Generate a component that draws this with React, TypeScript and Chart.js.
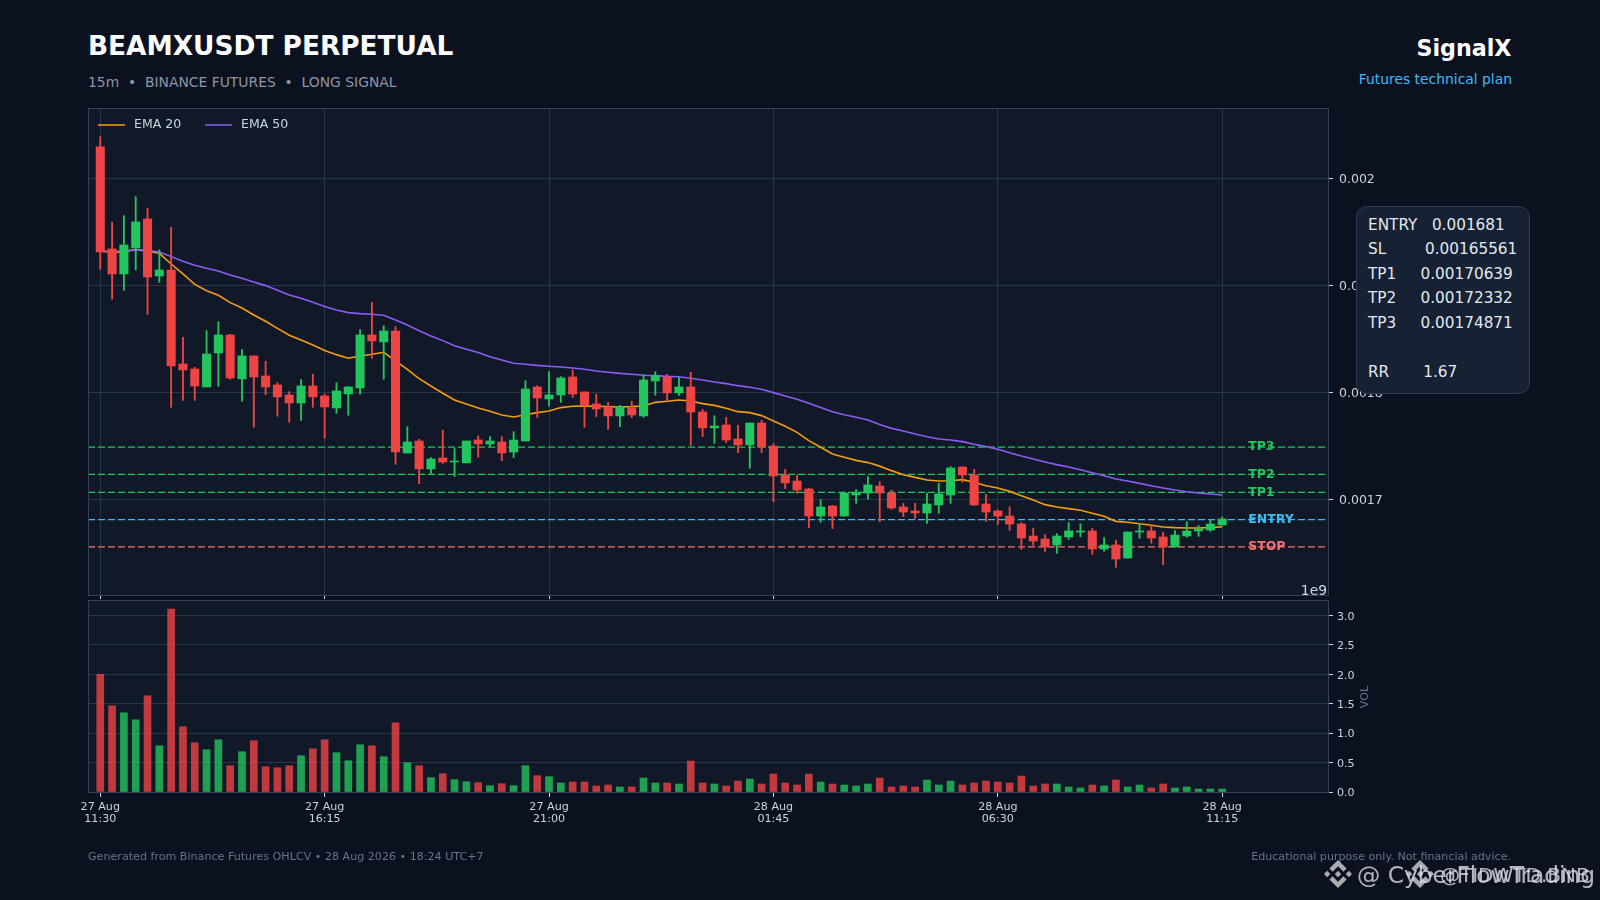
import React, { useEffect, useRef } from "react";
import { Chart, registerables } from "chart.js";

Chart.register(...registerables);

const FONT = "'DejaVu Sans', sans-serif";

const opens = [2029.3e-6,1934.0e-6,1910.6e-6,1934.9e-6,1962.0e-6,1908.7e-6,1914.3e-6,1826.5e-6,1821.8e-6,1805.0e-6,1836.8e-6,1853.6e-6,1812.5e-6,1834.0e-6,1815.3e-6,1806.9e-6,1797.5e-6,1790.0e-6,1805.9e-6,1796.6e-6,1785.4e-6,1798.5e-6,1804.1e-6,1853.6e-6,1847.1e-6,1857.3e-6,1743.3e-6,1754.5e-6,1728.4e-6,1738.6e-6,1734.9e-6,1734.0e-6,1755.5e-6,1751.7e-6,1753.6e-6,1744.2e-6,1754.5e-6,1805.0e-6,1793.8e-6,1797.5e-6,1814.3e-6,1800.3e-6,1789.1e-6,1786.3e-6,1777.9e-6,1785.4e-6,1777.9e-6,1810.6e-6,1814.3e-6,1799.4e-6,1805.0e-6,1781.6e-6,1766.7e-6,1769.5e-6,1756.4e-6,1750.8e-6,1771.3e-6,1749.8e-6,1722.7e-6,1717.1e-6,1709.7e-6,1684.4e-6,1693.8e-6,1684.4e-6,1704.1e-6,1705.9e-6,1712.4e-6,1705.9e-6,1692.8e-6,1689.1e-6,1687.2e-6,1694.7e-6,1704.0e-6,1730.2e-6,1722.7e-6,1695.6e-6,1689.1e-6,1684.4e-6,1676.9e-6,1665.7e-6,1662.9e-6,1657.3e-6,1664.8e-6,1669.4e-6,1670.4e-6,1653.6e-6,1657.3e-6,1645.1e-6,1669.4e-6,1670.4e-6,1664.8e-6,1655.4e-6,1665.7e-6,1670.4e-6,1671.3e-6,1676.0e-6];
const closes = [1931.2e-6,1910.6e-6,1937.7e-6,1959.2e-6,1907.8e-6,1914.3e-6,1824.6e-6,1820.9e-6,1805.9e-6,1835.8e-6,1853.6e-6,1813.4e-6,1834.0e-6,1814.3e-6,1805.0e-6,1795.7e-6,1790.0e-6,1805.9e-6,1795.7e-6,1786.3e-6,1801.3e-6,1805.0e-6,1853.6e-6,1848.0e-6,1857.3e-6,1744.3e-6,1753.6e-6,1728.4e-6,1737.7e-6,1734.9e-6,1735.8e-6,1754.5e-6,1751.7e-6,1754.5e-6,1743.3e-6,1755.4e-6,1803.1e-6,1794.7e-6,1797.5e-6,1813.4e-6,1798.4e-6,1788.2e-6,1784.4e-6,1777.9e-6,1786.3e-6,1778.8e-6,1811.5e-6,1815.3e-6,1799.4e-6,1805.0e-6,1781.6e-6,1766.7e-6,1768.5e-6,1755.4e-6,1750.8e-6,1771.3e-6,1748.9e-6,1721.8e-6,1715.3e-6,1708.7e-6,1684.4e-6,1692.8e-6,1684.4e-6,1705.9e-6,1705.9e-6,1713.4e-6,1705.9e-6,1691.9e-6,1688.1e-6,1687.2e-6,1695.6e-6,1705.0e-6,1729.3e-6,1722.7e-6,1694.7e-6,1688.1e-6,1684.4e-6,1676.9e-6,1663.8e-6,1661.0e-6,1655.4e-6,1665.7e-6,1670.4e-6,1670.4e-6,1653.6e-6,1657.3e-6,1644.2e-6,1669.4e-6,1670.4e-6,1663.8e-6,1655.4e-6,1666.6e-6,1670.4e-6,1672.2e-6,1676.9e-6,1681.6e-6];
const highs = [2038.9e-6,1958.9e-6,1965.1e-6,1982.9e-6,1972.0e-6,1933.0e-6,1954.2e-6,1851.4e-6,1823.4e-6,1857.6e-6,1866.0e-6,1854.2e-6,1839.9e-6,1834.0e-6,1829.0e-6,1809.0e-6,1800.6e-6,1811.9e-6,1816.8e-6,1798.5e-6,1809.0e-6,1805.3e-6,1858.6e-6,1884.1e-6,1862.3e-6,1861.4e-6,1767.9e-6,1756.1e-6,1739.0e-6,1764.5e-6,1747.4e-6,1754.5e-6,1759.2e-6,1758.6e-6,1758.6e-6,1763.2e-6,1810.9e-6,1806.2e-6,1819.3e-6,1814.6e-6,1820.9e-6,1800.6e-6,1798.1e-6,1790.6e-6,1787.8e-6,1791.6e-6,1816.5e-6,1819.3e-6,1816.8e-6,1813.7e-6,1818.7e-6,1784.1e-6,1778.2e-6,1776.6e-6,1769.2e-6,1771.3e-6,1773.8e-6,1752.0e-6,1728.0e-6,1722.7e-6,1710.3e-6,1699.7e-6,1694.1e-6,1706.9e-6,1709.0e-6,1721.2e-6,1716.5e-6,1708.7e-6,1696.2e-6,1696.2e-6,1705.9e-6,1714.9e-6,1730.5e-6,1730.2e-6,1728.0e-6,1704.6e-6,1690.0e-6,1693.1e-6,1678.2e-6,1672.9e-6,1667.0e-6,1667.9e-6,1678.2e-6,1677.2e-6,1672.9e-6,1664.2e-6,1661.7e-6,1669.4e-6,1677.2e-6,1675.4e-6,1669.1e-6,1670.7e-6,1679.1e-6,1675.4e-6,1680.7e-6,1683.5e-6];
const lows = [1915.0e-6,1886.9e-6,1895.3e-6,1914.3e-6,1872.9e-6,1902.8e-6,1786.0e-6,1792.5e-6,1792.5e-6,1805.0e-6,1805.6e-6,1812.2e-6,1791.6e-6,1767.3e-6,1797.8e-6,1777.6e-6,1772.0e-6,1773.8e-6,1786.0e-6,1757.0e-6,1780.4e-6,1778.5e-6,1798.2e-6,1831.8e-6,1812.2e-6,1732.7e-6,1743.3e-6,1714.6e-6,1724.3e-6,1733.7e-6,1721.2e-6,1734.0e-6,1739.3e-6,1749.2e-6,1736.1e-6,1738.9e-6,1754.5e-6,1776.6e-6,1787.2e-6,1790.6e-6,1795.3e-6,1767.3e-6,1777.3e-6,1765.4e-6,1767.9e-6,1776.3e-6,1776.6e-6,1797.2e-6,1792.8e-6,1797.2e-6,1750.5e-6,1758.6e-6,1752.3e-6,1753.0e-6,1743.6e-6,1729.0e-6,1743.6e-6,1697.8e-6,1710.0e-6,1705.6e-6,1673.5e-6,1678.5e-6,1672.6e-6,1684.4e-6,1696.3e-6,1700.3e-6,1679.1e-6,1690.6e-6,1683.8e-6,1682.2e-6,1677.5e-6,1686.9e-6,1696.2e-6,1715.9e-6,1694.4e-6,1679.4e-6,1676.6e-6,1671.0e-6,1653.2e-6,1657.0e-6,1651.4e-6,1649.5e-6,1662.6e-6,1665.1e-6,1648.6e-6,1651.4e-6,1636.4e-6,1645.1e-6,1663.5e-6,1658.9e-6,1638.9e-6,1655.4e-6,1664.5e-6,1665.4e-6,1670.1e-6,1676.0e-6];
const ema20 = [1932.1e-6,1930.8e-6,1931.5e-6,1933.3e-6,1931.8e-6,1929.9e-6,1919.9e-6,1910.6e-6,1900.9e-6,1895.0e-6,1890.7e-6,1883.8e-6,1878.8e-6,1872.3e-6,1866.4e-6,1859.8e-6,1853.3e-6,1848.9e-6,1844.2e-6,1839.0e-6,1835.2e-6,1831.8e-6,1834.0e-6,1835.5e-6,1837.4e-6,1829.3e-6,1821.5e-6,1812.8e-6,1805.9e-6,1799.1e-6,1792.8e-6,1789.1e-6,1785.4e-6,1782.2e-6,1778.8e-6,1776.9e-6,1779.1e-6,1781.0e-6,1782.6e-6,1785.7e-6,1786.9e-6,1787.2e-6,1786.9e-6,1786.6e-6,1786.3e-6,1786.6e-6,1787.2e-6,1790.6e-6,1791.6e-6,1792.8e-6,1791.9e-6,1789.4e-6,1787.8e-6,1785.0e-6,1781.9e-6,1781.0e-6,1778.2e-6,1773.2e-6,1768.2e-6,1762.6e-6,1754.8e-6,1748.6e-6,1742.4e-6,1739.3e-6,1736.4e-6,1734.3e-6,1731.0e-6,1726.8e-6,1723.0e-6,1720.5e-6,1718.0e-6,1717.1e-6,1717.4e-6,1718.4e-6,1715.9e-6,1712.7e-6,1710.6e-6,1707.4e-6,1703.4e-6,1699.3e-6,1695.0e-6,1692.8e-6,1691.3e-6,1689.7e-6,1686.9e-6,1684.1e-6,1679.4e-6,1678.5e-6,1677.2e-6,1675.7e-6,1674.1e-6,1673.5e-6,1673.2e-6,1673.2e-6,1673.5e-6,1674.4e-6];
const ema50 = [1932.1e-6,1931.8e-6,1932.1e-6,1933.3e-6,1932.7e-6,1931.2e-6,1926.8e-6,1922.4e-6,1918.7e-6,1915.9e-6,1913.4e-6,1909.7e-6,1906.5e-6,1903.1e-6,1899.7e-6,1895.3e-6,1891.0e-6,1887.9e-6,1884.1e-6,1880.1e-6,1877.0e-6,1874.5e-6,1873.5e-6,1872.9e-6,1872.0e-6,1867.6e-6,1862.9e-6,1857.6e-6,1852.7e-6,1848.3e-6,1843.6e-6,1840.2e-6,1837.1e-6,1833.3e-6,1830.2e-6,1827.1e-6,1826.2e-6,1825.2e-6,1824.3e-6,1823.7e-6,1822.7e-6,1821.5e-6,1819.9e-6,1818.7e-6,1817.7e-6,1816.8e-6,1815.9e-6,1815.6e-6,1814.9e-6,1814.6e-6,1813.1e-6,1811.5e-6,1809.7e-6,1808.1e-6,1806.2e-6,1804.7e-6,1802.8e-6,1799.7e-6,1796.6e-6,1793.5e-6,1789.7e-6,1785.7e-6,1781.9e-6,1779.1e-6,1776.6e-6,1774.1e-6,1769.8e-6,1766.3e-6,1763.8e-6,1761.0e-6,1758.5e-6,1756.4e-6,1755.4e-6,1753.9e-6,1751.4e-6,1749.2e-6,1746.7e-6,1743.6e-6,1740.5e-6,1737.7e-6,1734.9e-6,1732.4e-6,1730.2e-6,1727.7e-6,1724.9e-6,1722.1e-6,1719.0e-6,1717.1e-6,1714.9e-6,1712.7e-6,1710.6e-6,1708.7e-6,1707.1e-6,1705.9e-6,1705.0e-6,1704.0e-6];
const volumes = [2.0,1.463,1.345,1.226,1.633,0.785,3.107,1.107,0.836,0.718,0.887,0.446,0.684,0.87,0.429,0.412,0.446,0.616,0.734,0.887,0.667,0.531,0.802,0.785,0.599,1.175,0.497,0.446,0.243,0.311,0.209,0.175,0.158,0.107,0.141,0.107,0.446,0.277,0.26,0.153,0.169,0.169,0.102,0.119,0.085,0.085,0.237,0.153,0.153,0.136,0.525,0.153,0.136,0.102,0.186,0.22,0.136,0.305,0.153,0.119,0.305,0.169,0.136,0.119,0.102,0.136,0.237,0.085,0.102,0.085,0.203,0.119,0.186,0.119,0.153,0.186,0.169,0.153,0.271,0.102,0.136,0.136,0.085,0.068,0.119,0.102,0.203,0.085,0.119,0.068,0.136,0.068,0.085,0.051,0.051,0.051];

const tickIndexes = [0, 19, 38, 57, 76, 95];
const tickDates = ["27 Aug", "27 Aug", "27 Aug", "28 Aug", "28 Aug", "28 Aug"];
const tickTimes = ["11:30", "16:15", "21:00", "01:45", "06:30", "11:15"];
const priceTicks = [0.0017, 0.0018, 0.0019, 0.002];
const volumeTicks = [0, 0.5, 1, 1.5, 2, 2.5, 3];

const levelNames = ["TP3", "TP2", "TP1", "ENTRY", "STOP"];
const levelValues = [0.00174871, 0.00172332, 0.00170639, 0.001681, 0.00165561];
const levelColors = ["#22c55e", "#22c55e", "#22c55e", "#38bdf8", "#f87171"];

const panelLines = [
  "ENTRY   0.001681",
  "SL        0.00165561",
  "TP1     0.00170639",
  "TP2     0.00172332",
  "TP3     0.00174871",
  " ",
  "RR       1.67",
];

const X_MIN = -1.04;
const X_MAX = 103.96;
const LABEL_X = 97.2;
const UP = "#22c55e";
const DOWN = "#ef4444";
const UP_VOL = "rgba(34,197,94,0.8)";
const DOWN_VOL = "rgba(239,68,68,0.8)";
const GRID = "#2a3648";
const BORDER = "#334155";
const TICK = "#cbd5e1";

const index = opens.map((_, i) => i);
const isUp = (i: number) => closes[i] >= opens[i];

const frame = (isPrice: boolean) => ({
  id: "frame" + isPrice,
  beforeDraw(chart: any) {
    const { ctx, chartArea: a, scales } = chart;
    ctx.save();
    ctx.fillStyle = "#111827";
    ctx.fillRect(a.left, a.top, a.right - a.left, a.bottom - a.top);
    ctx.restore();
    scales.y.getLabelItems().forEach((item: any) => {
      if (!item.moved) {
        item.options.translation[1] += 1.5;
        item.moved = true;
      }
    });
  },
  afterDraw(chart: any) {
    const { ctx, chartArea: a, scales } = chart;
    ctx.save();
    ctx.strokeStyle = BORDER;
    ctx.lineWidth = 1;
    ctx.strokeRect(Math.round(a.left) + 0.5, Math.round(a.top) + 0.5, Math.round(a.right - a.left), Math.round(a.bottom - a.top));
    ctx.textBaseline = "middle";
    if (isPrice) {
      levelNames.forEach((name, i) => {
        ctx.fillStyle = levelColors[i];
        ctx.font = `bold 12.5px ${FONT}`;
        ctx.textAlign = "left";
        ctx.fillText(name, scales.x.getPixelForValue(LABEL_X), scales.y.getPixelForValue(levelValues[i]));
      });
      ctx.fillStyle = TICK;
      ctx.font = `13.89px ${FONT}`;
      ctx.textAlign = "right";
      ctx.fillText("1e9", a.right - 1, a.bottom - 4);
      // EMA legend, inside the price panel
      ctx.font = `12.5px ${FONT}`;
      ctx.textAlign = "left";
      chart.data.datasets
        .filter((d: any) => String(d.label).startsWith("EMA"))
        .forEach((d: any, k: number) => {
          const x = a.left + 10 + k * 107;
          const y = a.top + 17;
          ctx.strokeStyle = d.borderColor;
          ctx.lineWidth = 1.5;
          ctx.beginPath();
          ctx.moveTo(x, y);
          ctx.lineTo(x + 27, y);
          ctx.stroke();
          ctx.fillStyle = TICK;
          ctx.fillText(d.label, x + 36, y);
        });
    } else {
      ctx.translate(a.right + 37, (a.top + a.bottom) / 2 + 1);
      ctx.rotate(-Math.PI / 2);
      ctx.fillStyle = "#64748b";
      ctx.font = `11.11px ${FONT}`;
      ctx.textAlign = "center";
      ctx.fillText("VOL", 0, 0);
    }
    ctx.restore();
  },
});

const xScale = (height: number, labels: boolean, vertical: boolean) => ({
  type: "linear",
  min: X_MIN,
  max: X_MAX,
  offset: false,
  afterBuildTicks(s: any) {
    s.ticks = tickIndexes.map((value) => ({ value }));
  },
  afterFit(s: any) {
    s.height = height;
  },
  grid: { color: GRID, tickColor: TICK, tickLength: labels ? 5 : 4, offset: false, drawOnChartArea: vertical },
  border: { display: false },
  ticks: {
    display: labels,
    autoSkip: false,
    maxRotation: 0,
    minRotation: 0,
    padding: 5,
    color: TICK,
    font: { family: FONT, size: 11.11, lineHeight: 1 },
    callback: (v: number) => {
      const k = tickIndexes.indexOf(v);
      return k < 0 ? "" : [tickDates[k], tickTimes[k]];
    },
  },
});

const yScale = (min: number, max: number, values: number[], size: number, pad: number, format: (v: number) => string) => ({
  type: "linear",
  position: "right",
  min,
  max,
  afterBuildTicks(s: any) {
    s.ticks = values.map((value) => ({ value }));
  },
  afterFit(s: any) {
    s.width = 60;
  },
  grid: { color: GRID, tickColor: TICK, tickLength: 5 },
  border: { display: false },
  ticks: { color: TICK, padding: pad, font: { family: FONT, size }, callback: format },
});

function PriceChart() {
  const ref = useRef<HTMLCanvasElement>(null);
  useEffect(() => {
    const edges = [X_MIN, X_MAX];
    const chart = new Chart(ref.current!, {
      type: "bar",
      data: {
        datasets: [
          { type: "line", label: "EMA 20", data: index.map((x) => ({ x, y: ema20[x] })), borderColor: "#f59e0b", backgroundColor: "#f59e0b", borderWidth: 1.6, pointRadius: 0, tension: 0, order: 5 },
          { type: "line", label: "EMA 50", data: index.map((x) => ({ x, y: ema50[x] })), borderColor: "#8b5cf6", backgroundColor: "#8b5cf6", borderWidth: 1.6, pointRadius: 0, tension: 0, order: 4 },
          ...levelNames.map((name, k) => ({
            type: "line",
            label: name,
            data: edges.map((x) => ({ x, y: levelValues[k] })),
            borderColor: levelColors[k],
            borderWidth: 1.3,
            borderDash: [7, 3],
            pointRadius: 0,
            order: 6,
          })),
          { label: "wick", data: index.map((x) => ({ x, y: [lows[x], highs[x]] })), backgroundColor: index.map((i) => (isUp(i) ? UP : DOWN)), barThickness: 1.2, grouped: false, order: 2 },
          { label: "body", data: index.map((x) => ({ x, y: [opens[x], closes[x]] })), backgroundColor: index.map((i) => (isUp(i) ? UP : DOWN)), barThickness: 8.4, grouped: false, order: 1 },
        ] as any,
      },
      options: {
        responsive: false,
        animation: false,
        events: [],
        layout: { padding: { left: 88, top: 108, right: 212, bottom: 301 } },
        scales: {
          x: xScale(4, false, true),
          y: yScale(0.00161056, 0.0020657, priceTicks, 12.5, 6, (v: number) => String(+v.toFixed(4))),
        } as any,
        plugins: { tooltip: { enabled: false }, legend: { display: false } },
      } as any,
      plugins: [frame(true)],
    });
    return () => chart.destroy();
  }, []);
  return <canvas ref={ref} width={1600} height={900} style={{ position: "absolute", left: 0, top: 0, width: 1600, height: 900 }} />;
}

function VolumeChart() {
  const ref = useRef<HTMLCanvasElement>(null);
  useEffect(() => {
    const chart = new Chart(ref.current!, {
      type: "bar",
      data: {
        datasets: [
          { label: "VOL", data: index.map((x) => ({ x, y: volumes[x] })), backgroundColor: index.map((i) => (isUp(i) ? UP_VOL : DOWN_VOL)), barThickness: 7, grouped: false },
        ],
      },
      options: {
        responsive: false,
        animation: false,
        events: [],
        layout: { padding: { left: 88, top: 600, right: 212, bottom: 72 } },
        scales: {
          x: xScale(36, true, false),
          y: yScale(0, 3.26, volumeTicks, 11.11, 4, (v: number) => v.toFixed(1)),
        } as any,
        plugins: { legend: { display: false }, tooltip: { enabled: false } },
      } as any,
      plugins: [frame(false)],
    });
    return () => chart.destroy();
  }, []);
  return <canvas ref={ref} width={1600} height={900} style={{ position: "absolute", left: 0, top: 0, width: 1600, height: 900 }} />;
}

const text = (extra: React.CSSProperties): React.CSSProperties => ({
  position: "absolute",
  whiteSpace: "pre",
  fontFamily: FONT,
  ...extra,
});

function Logo({ left }: { left: number }) {
  return (
    <svg viewBox="0 0 126.61 126.61" width={28} height={28} style={{ position: "absolute", left, top: 860 }}>
      <path
        fill="#c4c8ce"
        fillOpacity={0.85}
        d="M38.73 53.2l24.59-24.58 24.6 24.6 14.3-14.31L63.32 0 24.43 38.9zM0 63.31l14.3-14.31 14.31 14.31-14.31 14.3zM38.73 73.41l24.59 24.59 24.6-24.6 14.31 14.29-38.9 38.91-38.91-38.88-.02-.02zM98 63.31l14.3-14.31 14.31 14.3-14.31 14.32zM77.83 63.3L63.32 48.78 52.59 59.51l-1.24 1.23-2.54 2.54 14.51 14.5 14.51-14.52z"
      />
    </svg>
  );
}

export default function App() {
  return (
    <div style={{ position: "fixed", left: 0, top: 0, width: 1600, height: 900, background: "#0b111e", overflow: "hidden" }}>
      <div style={text({ left: 88, top: 26, lineHeight: "40px", fontSize: 26.39, fontWeight: 700, color: "#ffffff" })}>BEAMXUSDT PERPETUAL</div>
      <div style={text({ left: 88, top: 72, lineHeight: "20px", fontSize: 13.89, color: "#8b96a8" })}>{"15m  •  BINANCE FUTURES  •  LONG SIGNAL"}</div>
      <div style={text({ right: 88.5, top: 33, lineHeight: "30px", fontSize: 22.22, fontWeight: 700, color: "#ffffff" })}>SignalX</div>
      <div style={text({ right: 88, top: 69, lineHeight: "20px", fontSize: 13.89, color: "#38bdf8" })}>Futures technical plan</div>
      <PriceChart />
      <VolumeChart />
      <div
        style={{
          position: "absolute",
          left: 1355.5,
          top: 206,
          width: 174,
          height: 187.5,
          boxSizing: "border-box",
          background: "#162133",
          border: "1px solid #2c3a50",
          borderRadius: 11,
        }}
      />
      {panelLines.map((line, i) => (
        <div key={i} style={text({ left: 1368, top: 224.5 + i * 24.65 - 12, lineHeight: "24px", fontSize: 15.28, color: "#e2e8f0" })}>{line}</div>
      ))}
      <div style={text({ left: 88, top: 849, lineHeight: "16px", fontSize: 11.11, color: "#64748b" })}>{"Generated from Binance Futures OHLCV • 28 Aug 2026 • 18:24 UTC+7"}</div>
      <div style={text({ right: 89, top: 849, lineHeight: "16px", fontSize: 11.11, color: "#64748b" })}>Educational purpose only. Not financial advice.</div>
      <Logo left={1324} />
      <Logo left={1406} />
      <div style={text({ left: 1357, top: 859, lineHeight: "32px", fontSize: 23.3, color: "rgba(220,224,230,0.8)" })}>@ CyberFlowTrading</div>
      <div style={text({ left: 1440, top: 859, lineHeight: "32px", fontSize: 20, color: "rgba(220,224,230,0.8)" })}>@TIDWTD.BNB</div>
    </div>
  );
}
